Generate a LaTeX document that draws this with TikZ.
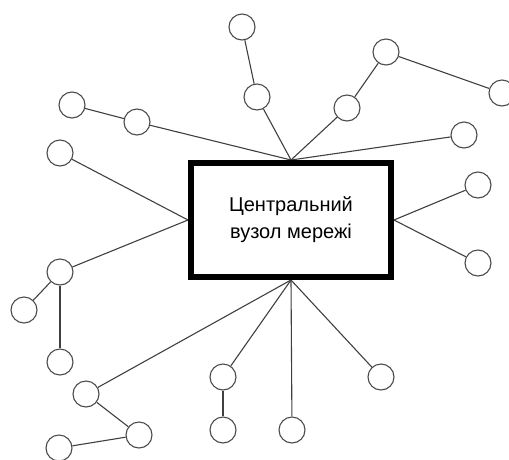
\documentclass[tikz,border=0pt]{standalone}
\usepackage{fontspec}
\setmainfont{Liberation Sans}
\begin{document}
\begin{tikzpicture}[x=1pt,y=-1pt,
  hub/.style={draw=black,line width=6pt,fill=white,minimum width=200pt,minimum height=114pt,
    inner sep=0pt,align=center,font=\fontsize{20}{27}\selectfont},
  station/.style={circle,draw=black!70,line width=1.1pt,fill=white,minimum size=26pt,inner sep=0pt},
  link/.style={draw=black!75,line width=1.1pt}]
\useasboundingbox (0,0) rectangle (509,459);

% central node
\node[hub] (box) at (291,220) {Центральний\\вузол мережі};

% peripheral stations
\node[station] (a1) at (242,27) {};
\node[station] (a2) at (257,97) {};
\node[station] (b1) at (72,105) {};
\node[station] (b2) at (137,122) {};
\node[station] (c1) at (60,153) {};
\node[station] (d1) at (386,52) {};
\node[station] (d2) at (502,93) {};
\node[station] (d3) at (347,108) {};
\node[station] (e1) at (464,135) {};
\node[station] (f1) at (478,185) {};
\node[station] (f2) at (478,263) {};
\node[station] (g1) at (381,377) {};
\node[station] (g2) at (292,430) {};
\node[station] (h1) at (223,377) {};
\node[station] (h2) at (223,430) {};
\node[station] (k1) at (86,394) {};
\node[station] (k2) at (139,435) {};
\node[station] (k3) at (59,448) {};
\node[station] (m1) at (60,272) {};
\node[station] (m2) at (24,310) {};
\node[station] (m3) at (60,362) {};

% links
\path[link] (a1) -- (a2);
\path[link] (a2) -- (box.north);
\path[link] (b1) -- (b2);
\path[link] (b2) -- (box.north);
\path[link] (c1) -- (box.west);
\path[link] (d1) -- (d2);
\path[link] (d1) -- (d3);
\path[link] (d3) -- (box.north);
\path[link] (e1) -- (box.north);
\path[link] (f1) -- (box.east);
\path[link] (f2) -- (box.east);
\path[link] (g1) -- (box.south);
\path[link] (g2) -- (box.south);
\path[link] (h1) -- (box.south);
\path[link] (h1) -- (h2);
\path[link] (k1) -- (box.south);
\path[link] (k1) -- (k2);
\path[link] (k2) -- (k3);
\path[link] (m1) -- (box.west);
\path[link] (m1) -- (m2);
\path[link] (m1) -- (m3);

% redraw the frame over the link ends
\node[hub] at (291,220) {Центральний\\вузол мережі};
\end{tikzpicture}
\end{document}
